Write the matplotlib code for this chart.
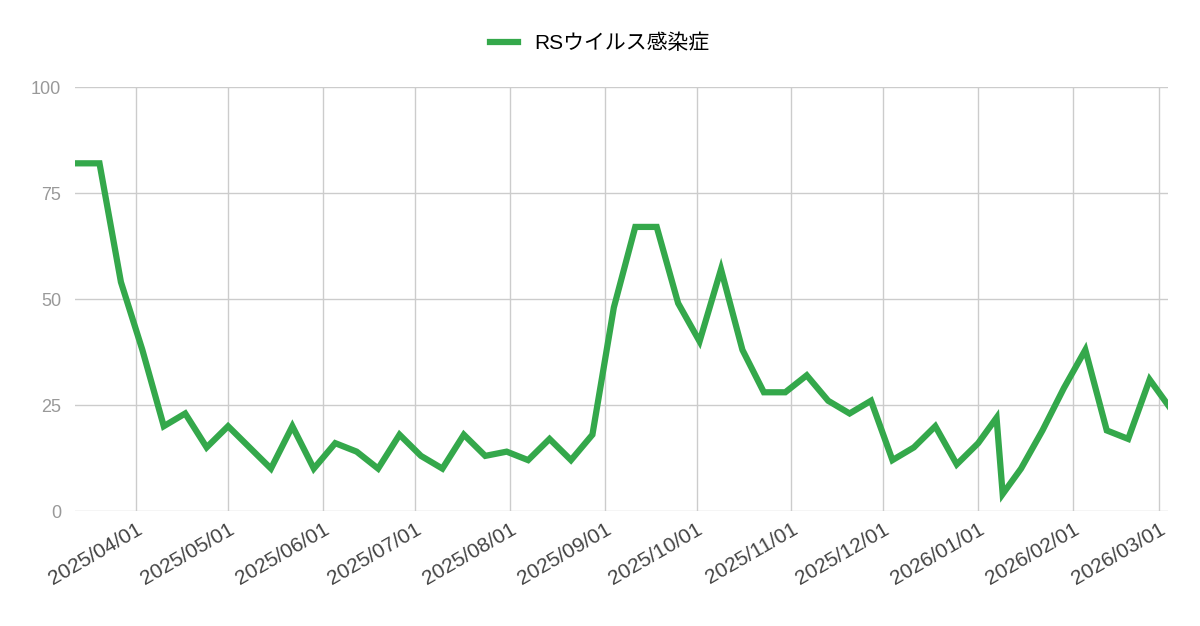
import matplotlib
matplotlib.use("Agg")
import matplotlib.pyplot as plt
import pandas as pd

plt.rcParams['font.family'] = ['Liberation Sans', 'Noto Sans CJK JP', 'DejaVu Sans']

series_name = "RSウイルス感染症"
weekly_dates = list(pd.date_range("2025-03-13", periods=44, freq="7D").strftime("%Y-%m-%d"))
dates = weekly_dates[:43] + ["2026-01-07", "2026-01-09", "2026-01-15", "2026-01-22", "2026-01-29",
                             "2026-02-05", "2026-02-12", "2026-02-19", "2026-02-26", "2026-03-05"]
values = [82, 82, 54, 38, 20, 23, 15, 20, 15, 10,
          20, 10, 16, 14, 10, 18, 13, 10, 18, 13,
          14, 12, 17, 12, 18, 48, 67, 67, 49, 40,
          57, 38, 28, 28, 32, 26, 23, 26, 12, 15,
          20, 11, 16, 22, 4, 10, 19, 29, 38, 19, 17, 31, 24]
y_ticks = [0, 25, 50, 75, 100]
x_ticks = ["2025-04-01", "2025-05-01", "2025-06-01", "2025-07-01", "2025-08-01", "2025-09-01",
           "2025-10-01", "2025-11-01", "2025-12-01", "2026-01-01", "2026-02-01", "2026-03-01"]

x = pd.to_datetime(dates)
fig = plt.figure(figsize=(12, 6.26), dpi=100)
ax = fig.add_axes([75/1200, 1-511/626, (1168-75)/1200, (511-87)/626])
ax.plot(x, values, color="#34a84b", lw=4.5, solid_joinstyle="miter", label=series_name)
ax.set_xlim(pd.Timestamp("2025-03-12"), pd.Timestamp("2026-03-04"))
ax.set_ylim(0, 100)
ax.set_yticks(y_ticks)
xt = pd.to_datetime(x_ticks)
ax.set_xticks(xt)
ax.set_xticklabels([d.strftime("%Y/%m/%d") for d in xt], rotation=30, ha="right",
                   rotation_mode="anchor", fontsize=15, color="#444444")
ax.tick_params(axis="y", labelsize=13, colors="#999999", length=0, pad=10)
ax.tick_params(axis="x", length=0, pad=6)
ax.grid(True, color="#cccccc", lw=1)
ax.set_axisbelow(True)
for s in ax.spines.values():
    s.set_visible(False)
fig.legend(handles=ax.get_lines(), labels=[series_name], loc="center", bbox_to_anchor=(0.5, 1-43/626),
           frameon=False, fontsize=15, handlelength=1.3, handleheight=0.5,
           prop={'family': ['Liberation Sans', 'Noto Sans CJK JP'], 'size': 15})
fig.savefig("out.png", dpi=100, facecolor="white")
